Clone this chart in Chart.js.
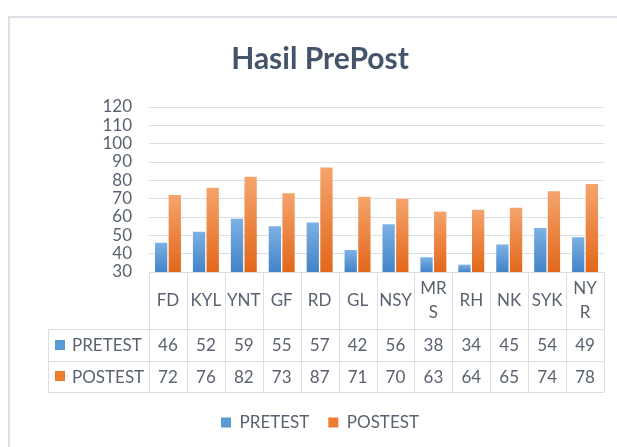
<!DOCTYPE html>
<html><head><meta charset="utf-8">
<script src="https://cdn.jsdelivr.net/npm/chart.js@4.4.1/dist/chart.umd.min.js"></script>
<style>html,body{margin:0;padding:0;background:#fff;}#wrap{width:617px;height:447px;}</style>
</head><body><div id="wrap"><canvas id="c" width="617" height="447"></canvas></div>
<script>
// ---- data ----
const title = 'Hasil PrePost';
const categories = ['FD','KYL','YNT','GF','RD','GL','NSY',['MR','S'],'RH','NK','SYK',['NY','R']];
const seriesNames = ['PRETEST','POSTEST'];
const pretest = [46,52,59,55,57,42,56,38,34,45,54,49];
const postest = [72,76,82,73,87,71,70,63,64,65,74,78];
const yMin = 30, yMax = 120, yStep = 10;

// ---- style ----
const FONT = 'Lato';
const TEXT = '#5a6170';
const LINE = '#dadee5';
const solid = ['#5b9bd5', '#ed7d31'];
const grads = [['#7cb1e4', '#4383c7'], ['#f5a46c', '#e2671a']];

function barGradient(i) {
  return (ctx) => {
    const chart = ctx.chart;
    const area = chart.chartArea;
    if (!area || ctx.type !== 'data' || !chart.scales.y) return solid[i];
    const y = chart.scales.y.getPixelForValue(ctx.raw);
    const g = chart.ctx.createLinearGradient(0, y, 0, area.bottom);
    g.addColorStop(0, grads[i][0]);
    g.addColorStop(1, grads[i][1]);
    return g;
  };
}

const frame = {
  id: 'frame',
  beforeDraw(chart) {
    const c = chart.ctx;
    c.save();
    c.strokeStyle = '#dde1e7';
    c.lineWidth = 2;
    c.strokeRect(9, 17, 800, 600);
    c.restore();
  }
};

const table = {
  id: 'table',
  afterDraw(chart) {
    const c = chart.ctx;
    const area = chart.chartArea;
    const xs = chart.scales.x;
    const n = categories.length;
    const colW = (area.right - area.left) / n;
    const top = area.bottom;
    const catH = 57, rowH = 31.5;
    const r1 = top + catH, r2 = r1 + rowH, r3 = r2 + rowH;
    const hdrLeft = area.left - 101;
    c.save();
    c.strokeStyle = LINE;
    c.lineWidth = 1;
    c.beginPath();
    [r1, r2, r3].forEach(y => { c.moveTo(hdrLeft, Math.round(y) + 0.5); c.lineTo(area.right, Math.round(y) + 0.5); });
    for (let i = 0; i <= n; i++) {
      const x = Math.round(area.left + i * colW) + 0.5;
      c.moveTo(x, top); c.lineTo(x, r3);
    }
    c.moveTo(hdrLeft + 0.5, r1); c.lineTo(hdrLeft + 0.5, r3);
    c.stroke();

    c.fillStyle = TEXT;
    c.font = '17px ' + FONT;
    c.textAlign = 'center';
    c.textBaseline = 'middle';
    const data = [pretest, postest];
    for (let i = 0; i < n; i++) {
      const cx = xs.getPixelForValue(i);
      const lab = categories[i];
      const lines = Array.isArray(lab) ? lab : [lab];
      const lh = 24;
      const cy = top + catH / 2 - (lines.length - 1) * lh / 2;
      lines.forEach((t, k) => c.fillText(t, cx, cy + k * lh));
      data.forEach((d, s) => c.fillText(String(d[i]), cx, r1 + rowH * s + rowH / 2 + 1));
    }
    c.textAlign = 'left';
    seriesNames.forEach((name, s) => {
      const cy = r1 + rowH * s + rowH / 2;
      c.fillStyle = solid[s];
      c.fillRect(hdrLeft + 7, Math.round(cy - 5), 10, 10);
      c.fillStyle = TEXT;
      c.fillText(name, hdrLeft + 24, cy + 1);
    });
    c.restore();
  }
};

new Chart(document.getElementById('c'), {
  type: 'bar',
  data: {
    labels: categories,
    datasets: [
      { label: seriesNames[0], data: pretest, backgroundColor: barGradient(0), borderWidth: 0 },
      { label: seriesNames[1], data: postest, backgroundColor: barGradient(1), borderWidth: 0 }
    ]
  },
  options: {
    responsive: false,
    animation: false,
    devicePixelRatio: 1,
    datasets: { bar: { barPercentage: 0.9, categoryPercentage: 0.72 } },
    layout: { padding: { left: 36, right: 13, top: 0, bottom: 6 } },
    scales: {
      x: {
        grid: { display: false },
        border: { display: false },
        ticks: { display: false },
        afterFit(s) { s.height = 123; }
      },
      y: {
        min: yMin, max: yMax,
        ticks: { stepSize: yStep, autoSkip: false, color: TEXT, font: { family: FONT, size: 17 }, padding: 17 },
        grid: { color: LINE, drawTicks: false, lineWidth: 1 },
        border: { display: false },
        afterFit(s) { s.width = 113; }
      }
    },
    plugins: {
      title: {
        display: true, text: title, color: '#44546a',
        font: { family: FONT, size: 30, weight: 'bold' },
        padding: { top: 41, bottom: 30 }
      },
      legend: {
        position: 'bottom',
        labels: {
          color: TEXT, font: { family: FONT, size: 17 },
          boxWidth: 10, boxHeight: 10, padding: 19,
          generateLabels(chart) {
            return seriesNames.map((n, i) => ({ text: n, fillStyle: solid[i], strokeStyle: solid[i], lineWidth: 0, datasetIndex: i, fontColor: TEXT }));
          }
        }
      },
      tooltip: { enabled: false }
    }
  },
  plugins: [frame, table]
});
</script>
</body></html>
